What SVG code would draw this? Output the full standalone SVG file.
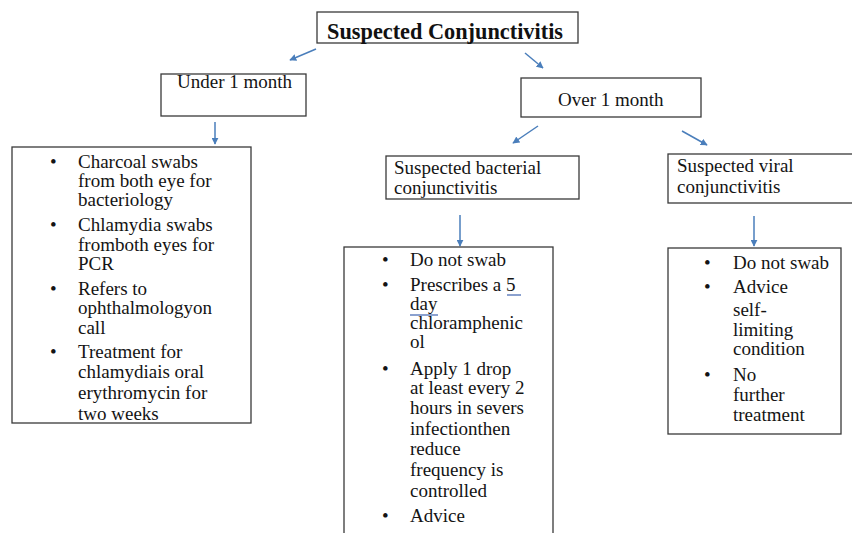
<svg xmlns="http://www.w3.org/2000/svg" width="852" height="533" viewBox="0 0 852 533">
<style>
  .box { fill: #ffffff; stroke: #3a3a3a; stroke-width: 1.3; }
  .t { font-family: "Liberation Serif", "Times New Roman", serif; font-size: 19px; fill: #141414; }
  .title { font-family: "Liberation Serif", "Times New Roman", serif; font-size: 22.3px; font-weight: bold; fill: #111111; }
  .conn { stroke: #4a7ebb; stroke-width: 1.5; fill: none; marker-end: url(#ah); }
  .ul { stroke: #3f63b0; stroke-width: 1.2; }
</style>
<defs>
  <marker id="ah" viewBox="0 0 10 10" refX="9" refY="5" markerWidth="7" markerHeight="7" orient="auto" markerUnits="userSpaceOnUse">
    <path d="M0,0 L10,5 L0,10 z" fill="#4a7ebb"/>
  </marker>
</defs>
<rect width="852" height="533" fill="#ffffff"/>

<g id="connectors">
  <line class="conn" x1="316" y1="49" x2="290" y2="60"/>
  <line class="conn" x1="525" y1="53" x2="543" y2="68"/>
  <line class="conn" x1="215" y1="122" x2="215" y2="144"/>
  <line class="conn" x1="538" y1="126" x2="513" y2="143"/>
  <line class="conn" x1="682" y1="131" x2="707" y2="145"/>
  <line class="conn" x1="460" y1="215" x2="460" y2="246"/>
  <line class="conn" x1="754" y1="216" x2="754" y2="246"/>
</g>

<g id="title">
  <rect class="box" x="317" y="12" width="261" height="31"/>
  <text class="title" x="327" y="38.5">Suspected Conjunctivitis</text>
</g>

<g id="under1">
  <rect class="box" x="161" y="74" width="145" height="42"/>
  <text class="t" x="177" y="88">Under 1 month</text>
</g>

<g id="over1">
  <rect class="box" x="521" y="78" width="180" height="39"/>
  <text class="t" x="558" y="106">Over 1 month</text>
</g>

<g id="under1-actions">
  <rect class="box" x="12" y="147" width="239" height="276"/>
  <text class="t">
    <tspan x="50" y="168">•</tspan>
    <tspan x="78" y="168">Charcoal swabs</tspan>
    <tspan x="78" y="187">from both eye for</tspan>
    <tspan x="78" y="206">bacteriology</tspan>
    <tspan x="50" y="231">•</tspan>
    <tspan x="78" y="231">Chlamydia swabs</tspan>
    <tspan x="78" y="251">fromboth eyes for</tspan>
    <tspan x="78" y="270">PCR</tspan>
    <tspan x="50" y="295">•</tspan>
    <tspan x="78" y="295">Refers to</tspan>
    <tspan x="78" y="314">ophthalmologyon</tspan>
    <tspan x="78" y="334">call</tspan>
    <tspan x="50" y="358">•</tspan>
    <tspan x="78" y="358">Treatment for</tspan>
    <tspan x="78" y="378">chlamydiais oral</tspan>
    <tspan x="78" y="399">erythromycin for</tspan>
    <tspan x="78" y="420">two weeks</tspan>
  </text>
</g>

<g id="bacterial">
  <rect class="box" x="386" y="156" width="193" height="43"/>
  <text class="t">
    <tspan x="394" y="174">Suspected bacterial</tspan>
    <tspan x="394" y="194">conjunctivitis</tspan>
  </text>
</g>

<g id="bacterial-actions">
  <rect class="box" x="344" y="247" width="209" height="300"/>
  <text class="t">
    <tspan x="382" y="266">•</tspan>
    <tspan x="410" y="266">Do not swab</tspan>
    <tspan x="382" y="291">•</tspan>
    <tspan x="410" y="291">Prescribes a 5</tspan>
    <tspan x="410" y="310">day</tspan>
    <tspan x="410" y="329">chloramphenic</tspan>
    <tspan x="410" y="348">ol</tspan>
    <tspan x="382" y="375">•</tspan>
    <tspan x="410" y="375">Apply 1 drop</tspan>
    <tspan x="410" y="394">at least every 2</tspan>
    <tspan x="410" y="414">hours in severs</tspan>
    <tspan x="410" y="435">infectionthen</tspan>
    <tspan x="410" y="455">reduce</tspan>
    <tspan x="410" y="476">frequency is</tspan>
    <tspan x="410" y="497">controlled</tspan>
    <tspan x="382" y="522">•</tspan>
    <tspan x="410" y="522">Advice</tspan>
  </text>
  <line class="ul" x1="507" y1="295" x2="521" y2="295"/>
  <line class="ul" x1="410" y1="315" x2="438" y2="315"/>
</g>

<g id="viral">
  <rect class="box" x="668" y="154" width="200" height="49"/>
  <text class="t">
    <tspan x="677" y="172">Suspected viral</tspan>
    <tspan x="677" y="193">conjunctivitis</tspan>
  </text>
</g>

<g id="viral-actions">
  <rect class="box" x="668" y="248" width="173" height="186"/>
  <text class="t">
    <tspan x="704" y="269">•</tspan>
    <tspan x="733" y="269">Do not swab</tspan>
    <tspan x="704" y="293">•</tspan>
    <tspan x="733" y="293">Advice</tspan>
    <tspan x="733" y="316">self-</tspan>
    <tspan x="733" y="336">limiting</tspan>
    <tspan x="733" y="355">condition</tspan>
    <tspan x="704" y="381">•</tspan>
    <tspan x="733" y="381">No</tspan>
    <tspan x="733" y="401">further</tspan>
    <tspan x="733" y="421">treatment</tspan>
  </text>
</g>
</svg>
